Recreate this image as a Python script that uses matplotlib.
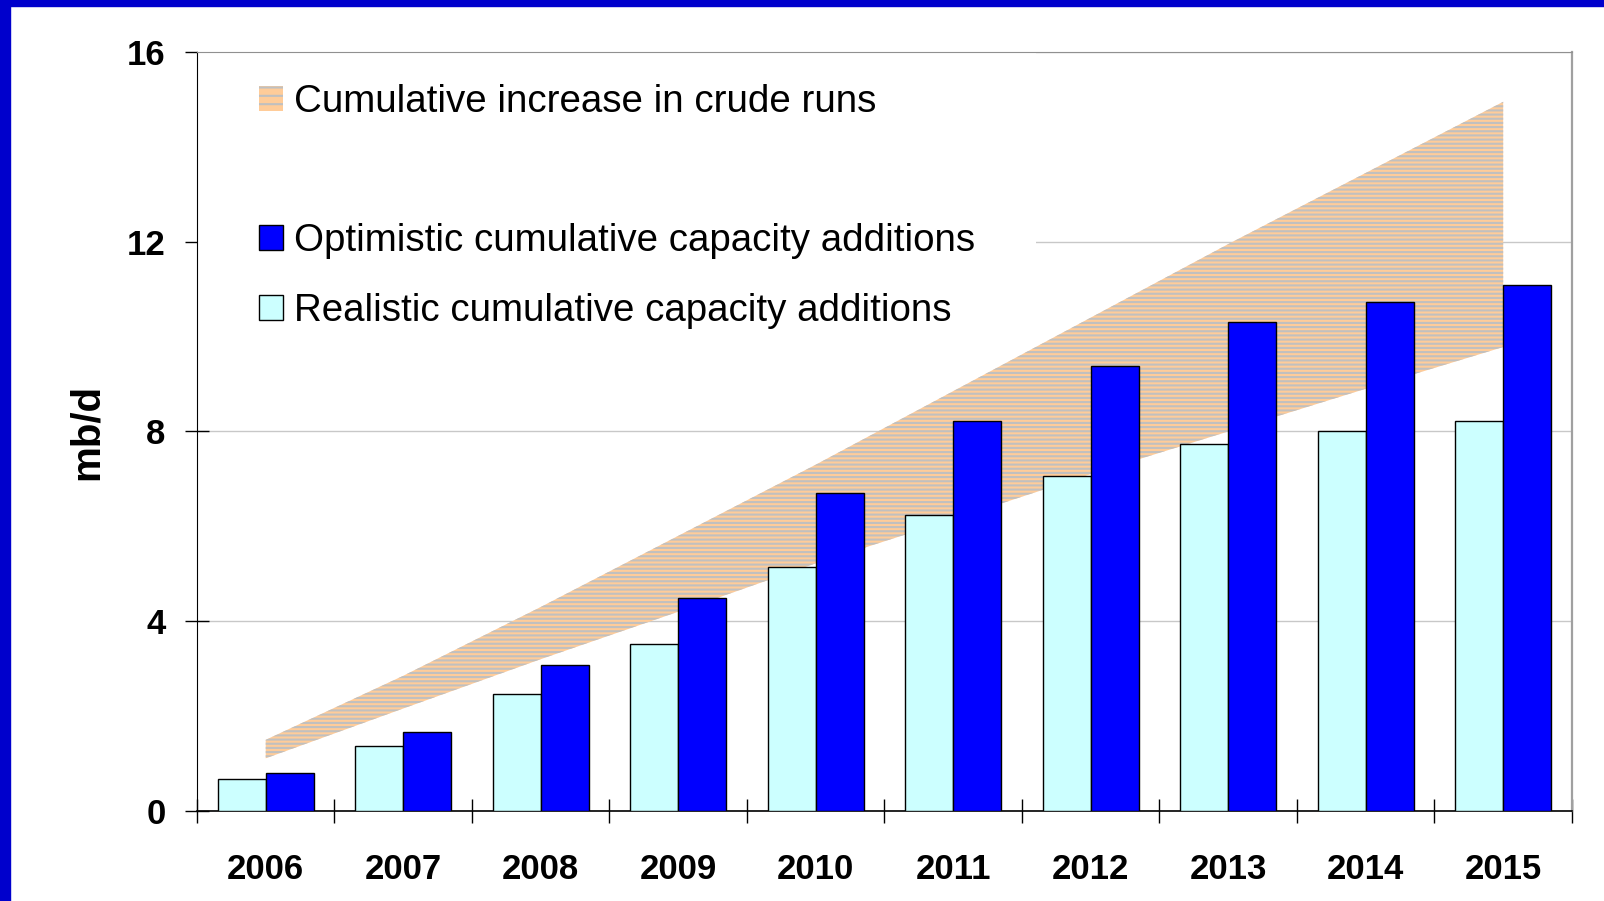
import matplotlib
matplotlib.use("Agg")
import matplotlib.pyplot as plt
from matplotlib.patches import Patch, Rectangle
import numpy as np

plt.rcParams['font.family'] = ['Liberation Sans', 'DejaVu Sans']
plt.rcParams['hatch.linewidth'] = 1.5
plt.rcParams['hatch.color'] = '#C0C0C0'

# Data (mb/d)
years = ['2006', '2007', '2008', '2009', '2010', '2011', '2012', '2013', '2014', '2015']
realistic = [0.67, 1.36, 2.47, 3.53, 5.14, 6.25, 7.06, 7.73, 8.00, 8.23]
optimistic = [0.80, 1.67, 3.08, 4.50, 6.70, 8.23, 9.37, 10.31, 10.74, 11.09]
crude_runs_low = [1.11, 2.16, 3.20, 4.20, 5.22, 6.15, 7.10, 8.00, 8.90, 9.78]
crude_runs_high = [1.50, 2.85, 4.30, 5.80, 7.30, 8.85, 10.40, 11.95, 13.45, 14.95]
y_ticks = [0, 4, 8, 12, 16]

labels = ['Cumulative increase in crude runs',
          'Optimistic cumulative capacity additions',
          'Realistic cumulative capacity additions']

c_opt = '#0000FF'
c_real = '#CCFFFF'
c_band = '#FFCC99'
c_stripe = '#C0C0C0'

fig = plt.figure(figsize=(16.04, 9.01), dpi=100)
ax = fig.add_axes([0.1228, 0.0999, 0.8572, 0.8424])

# frame accents along the top and left of the slide
fig.add_artist(Rectangle((0, 1 - 6 / 901), 1, 6 / 901, transform=fig.transFigure,
                         color='#0000CC', zorder=10))
fig.add_artist(Rectangle((0, 0), 10 / 1604, 1, transform=fig.transFigure,
                         color='#0000CC', zorder=10))

x = np.arange(len(years))
w = 0.35

ax.fill_between(x, crude_runs_low, crude_runs_high, facecolor=c_band,
                edgecolor=c_stripe, hatch='----', linewidth=0, zorder=2.2)
ax.bar(x - w / 2, realistic, w, color=c_real, edgecolor='black', linewidth=1.0, zorder=3)
ax.bar(x + w / 2, optimistic, w, color=c_opt, edgecolor='black', linewidth=1.0, zorder=3)

ax.set_xlim(-0.5, len(years) - 0.5)
ax.set_ylim(0, 16)
ax.set_yticks(y_ticks)
ax.set_yticklabels([str(v) for v in y_ticks], fontsize=25, fontweight='bold')
ax.yaxis.grid(True, color='#C8C8C8', linewidth=1.0)
ax.set_axisbelow(True)

# group boundaries carry the tick marks; year labels sit at group centres
ax.set_xticks(np.arange(len(years) + 1) - 0.5)
ax.set_xticklabels([])
ax.set_xticks(x, minor=True)
ax.set_xticklabels(years, minor=True, fontsize=25, fontweight='bold')
ax.tick_params(axis='x', which='major', direction='inout', length=17, width=1.0)
ax.tick_params(axis='x', which='minor', length=0, pad=30)
ax.tick_params(axis='y', direction='inout', length=17, width=1.0, pad=14)

ax.spines['left'].set_color('black')
ax.spines['bottom'].set_color('black')
ax.spines['bottom'].set_linewidth(1.2)
ax.spines['top'].set_color('#909090')
ax.spines['right'].set_color('#A0A0A0')
ax.spines['right'].set_linewidth(1.6)

ax.set_ylabel('mb/d', fontsize=29, fontweight='bold')
ax.yaxis.set_label_coords(-0.066, 0.5)

handles = [Patch(facecolor=c_band, edgecolor=c_stripe, hatch='--', linewidth=0),
           Patch(facecolor='none', edgecolor='none'),
           Patch(facecolor=c_opt, edgecolor='black', linewidth=1.0),
           Patch(facecolor=c_real, edgecolor='black', linewidth=1.0)]
leg = ax.legend(handles, [labels[0], ' ', labels[1], labels[2]],
                loc='upper left', bbox_to_anchor=(0.034, 0.978), borderaxespad=0,
                fontsize=27.7, frameon=True, facecolor='white', edgecolor='none',
                framealpha=1.0, fancybox=False, handlelength=0.62, handleheight=0.62,
                handletextpad=0.29, labelspacing=0.875, borderpad=0.39)
leg.get_frame().set_boxstyle('square', pad=1.2)
leg.set_zorder(2)

fig.savefig('out.png', dpi=100)
